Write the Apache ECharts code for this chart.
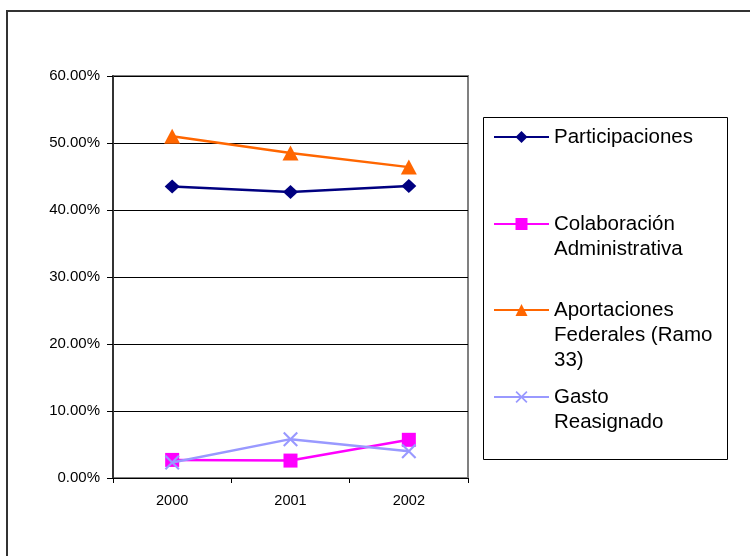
<!DOCTYPE html>
<html><head><meta charset="utf-8">
<script src="https://cdn.jsdelivr.net/npm/echarts@6/dist/echarts.min.js"></script>
<style>html,body{margin:0;padding:0;background:#fff}#c{width:750px;height:556px}</style>
</head><body><div id="c"></div>
<script>
const categories = ['2000', '2001', '2002'];
const seriesNames = ['Participaciones', 'Colaboración\nAdministrativa', 'Aportaciones\nFederales (Ramo\n33)', 'Gasto\nReasignado'];
const participaciones = [0.435, 0.427, 0.436];
const colaboracion = [0.027, 0.026, 0.057];
const aportaciones = [0.510, 0.485, 0.464];
const gasto = [0.023, 0.058, 0.040];

const colors = ['#000080', '#FF00FF', '#FF6600', '#9999FF'];
const symbols = ['diamond', 'rect', 'triangle', 'path://M0,1L1,0L5,4L9,0L10,1L6,5L10,9L9,10L5,6L1,10L0,9L4,5Z'];
const symbolSizes = [[15, 14], 14, [16, 15], 15];
const values = [participaciones, colaboracion, aportaciones, gasto];
const legendCenters = [137, 224, 310, 397];

const FONT = 'Liberation Sans, Arial, sans-serif';
const LH = 25;
const lineCount = n => n.split('\n').length;
const chart = echarts.init(document.getElementById('c'));
chart.setOption({
  animation: false,
  textStyle: { fontFamily: FONT },
  graphic: [
    { type: 'rect', shape: { x: 7, y: 11, width: 900, height: 700 }, style: { fill: 'none', stroke: '#333', lineWidth: 2 }, silent: true },
    { type: 'rect', shape: { x: 483.5, y: 117.5, width: 244, height: 342 }, style: { fill: 'none', stroke: '#000', lineWidth: 1 }, silent: true }
  ],
  grid: { left: 113, top: 76, right: 282, bottom: 78, show: true, borderColor: '#808080', borderWidth: 2, backgroundColor: '#fff' },
  legend: seriesNames.map((n, i) => ({
    orient: 'vertical', left: 493, top: legendCenters[i] - (2 * lineCount(n) - 1) * LH / 2, padding: 0,
    itemWidth: 55, itemHeight: 15,
    formatter: name => '\n'.repeat(lineCount(name) - 1) + name,
    textStyle: { fontSize: 20.5, lineHeight: LH, color: '#000', fontFamily: FONT },
    data: [n]
  })),
  xAxis: {
    type: 'category', data: categories, boundaryGap: true,
    axisLine: { lineStyle: { color: '#000', width: 1 } },
    axisTick: { show: true, length: 5, lineStyle: { color: '#000' } },
    axisLabel: { color: '#000', fontSize: 14.5, margin: 15 }
  },
  yAxis: {
    type: 'value', min: 0, max: 0.6, interval: 0.1,
    axisLine: { show: true, lineStyle: { color: '#333', width: 2 } },
    axisTick: { show: true, length: 6, lineStyle: { color: '#000' } },
    splitLine: { lineStyle: { color: '#000', width: 1 } },
    axisLabel: { color: '#000', fontSize: 15, margin: 13, formatter: v => (v * 100).toFixed(2) + '%' }
  },
  series: values.map((d, i) => ({
    name: seriesNames[i], type: 'line', data: d,
    symbol: symbols[i], symbolSize: symbolSizes[i], showAllSymbol: true,
    lineStyle: { color: colors[i], width: 2.5 },
    itemStyle: { color: colors[i], borderWidth: 0 },
    z: 3 + i
  }))
});
</script></body></html>
